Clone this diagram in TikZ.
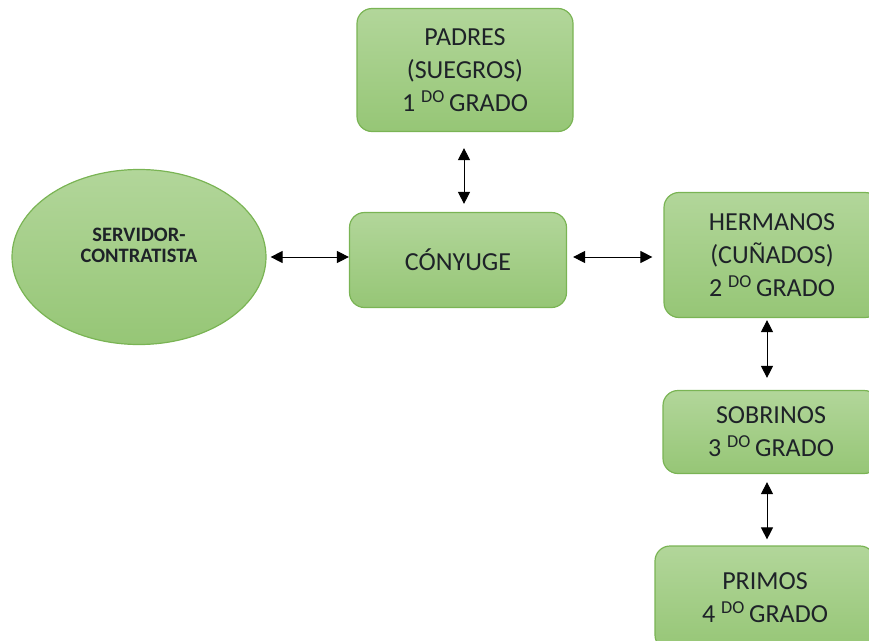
\documentclass[tikz,border=0pt]{standalone}
\usepackage{fontspec}
\setmainfont{Carlito}
\usetikzlibrary{positioning, arrows.meta, shapes.geometric}
\definecolor{boxfill}{RGB}{169,208,142}
\definecolor{boxtop}{RGB}{178,214,154}
\definecolor{boxbot}{RGB}{150,198,118}
\definecolor{boxline}{RGB}{122,180,84}
\definecolor{txt}{RGB}{30,34,40}

\begin{document}
\begin{tikzpicture}[x=1pt,y=-1pt,
	grado/.style={rounded corners=15pt,top color=boxtop,bottom color=boxbot,draw=boxline,line width=1.2pt,text=txt,font=\fontsize{26}{33}\selectfont,align=center,inner sep=0pt},
	rel/.style={{Triangle[length=12pt,width=12pt]}-{Triangle[length=12pt,width=12pt]},line width=1pt}]
	\useasboundingbox (0,0) rectangle (869,640);
	\node (servidor) at (139,257) [ellipse,top color=boxtop,bottom color=boxbot,draw=boxline,line width=1.2pt,minimum width=254pt,minimum height=175pt,inner sep=0pt] {};
	\node[text=txt,font=\fontsize{20.5}{21}\selectfont\bfseries,align=center] at (139,245) {SERVIDOR-\\CONTRATISTA};
	\node (padres) at (465,70) [grado,minimum width=216pt,minimum height=123pt] {PADRES\\(SUEGROS)\\1~\textsuperscript{DO}\,GRADO};
	\node (conyuge) at (458,260) [grado,minimum width=217pt,minimum height=95pt] {CÓNYUGE};
	\node (hermanos) at (772,255) [grado,minimum width=216pt,minimum height=125pt] {HERMANOS\\(CUÑADOS)\\2~\textsuperscript{DO}\,GRADO};
	\node (sobrinos) at (771,432) [grado,minimum width=216pt,minimum height=83pt] {SOBRINOS\\3~\textsuperscript{DO}\,GRADO};
	\node (primos) at (765,598) [grado,minimum width=220pt,minimum height=104pt] {PRIMOS\\4~\textsuperscript{DO}\,GRADO};
	\coordinate (mid) at (0,257);
	\coordinate (col) at (464,0);

	\draw[rel] ([xshift=4pt]servidor.east |- mid) -- (conyuge.west |- mid);
	\draw[rel] ([yshift=-16pt]padres.south -| col) -- ([yshift=8pt]conyuge.north -| col);
	\draw[rel] ([xshift=6pt]conyuge.east |- mid) -- ([xshift=-11pt]hermanos.west |- mid);
	\draw[rel] ([xshift=-5pt,yshift=-2pt]hermanos.south) -- ([xshift=-4pt,yshift=12pt]sobrinos.north);
	\draw[rel] ([xshift=-4pt,yshift=-8pt]sobrinos.south) -- ([xshift=2pt,yshift=6pt]primos.north);
\end{tikzpicture}
\end{document}
